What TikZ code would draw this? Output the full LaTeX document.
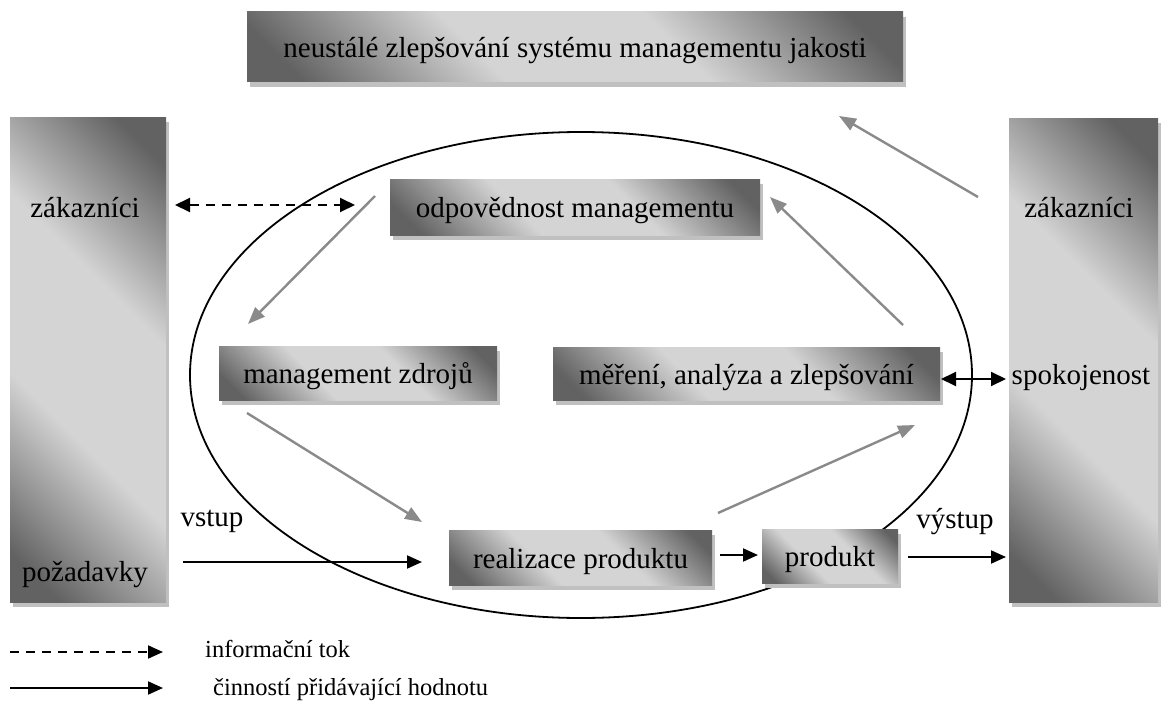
\documentclass[tikz,border=0pt]{standalone}
\usepackage{fontspec}
\setmainfont{Liberation Serif}
\usetikzlibrary{arrows.meta,shadows,shapes.geometric}

\definecolor{boxdark}{RGB}{98,98,98}
\definecolor{boxlight}{RGB}{212,212,212}
\definecolor{shadowgray}{RGB}{192,192,192}
\definecolor{flowgray}{RGB}{138,138,138}

% diagonal metal-like fill: dark corners, broad light band
\pgfdeclareverticalshading{boxshade}{100bp}{color(0bp)=(boxdark); color(20bp)=(boxdark);
  color(40bp)=(boxlight); color(60bp)=(boxlight); color(80bp)=(boxdark); color(100bp)=(boxdark)}

\begin{document}
\begin{tikzpicture}[x=1pt,y=-1pt,
  every node/.style={font=\fontsize{29}{34}\selectfont, text=black},
  shadebox/.style={rectangle, inner sep=0pt, shade, shading=boxshade,
    shading angle=-45, text height=24pt, text depth=3pt,
    drop shadow={shadow xshift=3pt, shadow yshift=-5pt, fill=shadowgray, opacity=1}},
  label/.style={inner sep=0pt, anchor=base},
  legendtext/.style={inner sep=0pt, anchor=base west, font=\fontsize{24.5}{29}\selectfont},
  valueflow/.style={line width=2pt, -{Triangle[length=15pt,width=13pt]}},
  infoflow/.style={line width=2pt, dash pattern=on 9pt off 7pt,
    {Triangle[length=15pt,width=14pt]}-{Triangle[length=15pt,width=14pt]}},
  twoway/.style={line width=2pt,
    {Triangle[length=15pt,width=14pt]}-{Triangle[length=15pt,width=14pt]}},
  processflow/.style={line width=2.4pt, draw=flowgray,
    -{Triangle[length=17pt,width=13pt]}, fill=flowgray}
]
\useasboundingbox (0,0) rectangle (1162,701);

% process loop
\node[ellipse, draw, line width=1.8pt, inner sep=0pt,
  minimum width=782pt, minimum height=486pt] (loop) at (581,375) {};

% customers on both sides
\node[shadebox, minimum width=156pt, minimum height=485pt] (lpill) at (88,359.5) {};
\node[shadebox, minimum width=149pt, minimum height=484pt] (rpill) at (1083.5,360) {};
\node[label] (lz) at (85,217) {zákazníci};
\node[label] (lp) at (85,581) {požadavky};
\node[label] (rz) at (1079,217) {zákazníci};
\node[label] (rs) at (1081,384) {spokojenost};

% process boxes
\node[shadebox, minimum width=656pt, minimum height=70pt] (top) at (575,47)
  {neustálé zlepšování systému managementu jakosti};
\node[shadebox, minimum width=370pt, minimum height=56pt] (odp) at (575,207)
  {odpovědnost managementu};
\node[shadebox, minimum width=278pt, minimum height=54pt] (mz) at (358,373)
  {management zdrojů};
\node[shadebox, minimum width=387pt, minimum height=53pt] (mer) at (746.5,373.5)
  {měření, analýza a zlepšování};
\node[shadebox, minimum width=263pt, minimum height=55pt] (real) at (580.5,557.5)
  {realizace produktu};
\node[shadebox, minimum width=136pt, minimum height=54pt] (prod) at (830,556)
  {produkt};

% arrow end points
\coordinate (d1) at (175,205);   \coordinate (d2) at (355,205);
\coordinate (v1) at (183,562);   \coordinate (v2) at (422,562);
\coordinate (p1) at (720,555);   \coordinate (p2) at (758,555);
\coordinate (o1) at (908,557);   \coordinate (o2) at (1006,557);
\coordinate (s1) at (941,379);   \coordinate (s2) at (1006,379);
\coordinate (g1s) at (375,196);  \coordinate (g1e) at (248,324);
\coordinate (g2s) at (247,413);  \coordinate (g2e) at (422,522);
\coordinate (g3s) at (718,513);  \coordinate (g3e) at (915,425);
\coordinate (g4s) at (903,325);  \coordinate (g4e) at (770,197);
\coordinate (g5s) at (978,197);  \coordinate (g5e) at (839,116);

% information and value flows
\draw[infoflow] (d1) -- (d2);
\draw[valueflow] (v1) -- (v2);
\draw[valueflow] (p1) -- (p2);
\draw[valueflow] (o1) -- (o2);
\draw[twoway] (s1) -- (s2);
\node[label] (vin) at (212,526) {vstup};
\node[label] (vout) at (955,528) {výstup};

% improvement cycle
\draw[processflow] (g1s) -- (g1e);
\draw[processflow] (g2s) -- (g2e);
\draw[processflow] (g3s) -- (g3e);
\draw[processflow] (g4s) -- (g4e);
\draw[processflow] (g5s) -- (g5e);

% legend
\coordinate (k1) at (10,652);  \coordinate (k2) at (163,652);
\coordinate (k3) at (10,688);  \coordinate (k4) at (163,688);
\draw[line width=2pt, dash pattern=on 9pt off 7pt, -{Triangle[length=15pt,width=13pt]}] (k1) -- (k2);
\draw[valueflow] (k3) -- (k4);
\node[legendtext] (kinfo) at (205,657) {informační tok};
\node[legendtext] (kval) at (213,695) {činností přidávající hodnotu};
\end{tikzpicture}
\end{document}
